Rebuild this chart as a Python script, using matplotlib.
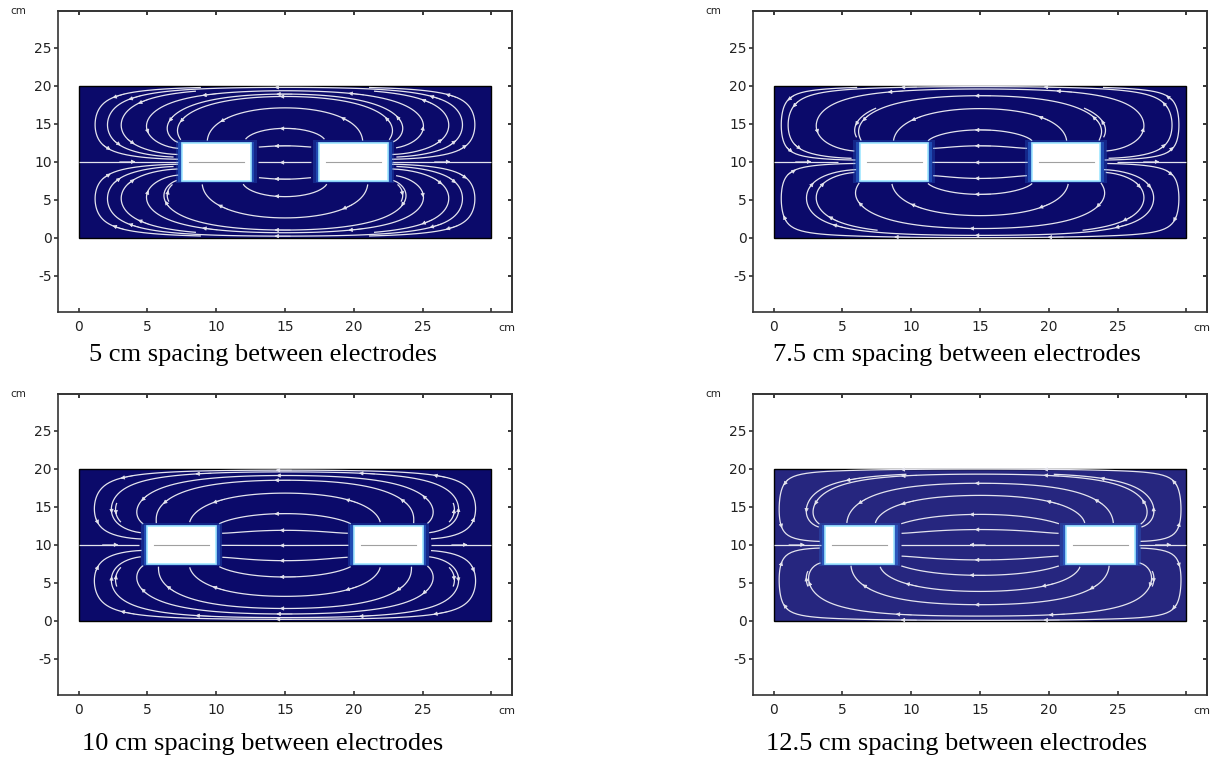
import numpy as np
import matplotlib
matplotlib.use('Agg')
from matplotlib import pyplot as plt
from matplotlib.patches import Rectangle, FancyArrowPatch

plt.rcParams['font.family'] = ['DejaVu Sans']
plt.rcParams['axes.unicode_minus'] = False

# 电极间距 (cm) 和每幅图的说明
spacings = [5, 7.5, 10, 12.5]
captions = ['5 cm spacing between electrodes', '7.5 cm spacing between electrodes',
            '10 cm spacing between electrodes', '12.5 cm spacing between electrodes']
tank_w, tank_h = 30, 20
elec_w, elec_h, elec_y0 = 5, 5, 7.5

# 从原图读出: 场线在 x=15 处的高度
mid_seeds = [
    [19.8, 18.6, 17.1, 14.4, 12.1, 9.9, 7.7, 5.4, 2.6, 1.0, 0.2],
    [19.9, 18.7, 17.0, 14.2, 12.1, 9.9, 7.8, 5.7, 2.9, 1.2, 0.3],
    [19.6, 18.5, 16.8, 14.1, 11.9, 9.9, 7.9, 5.75, 3.2, 1.6, 0.4],
    [19.3, 18.1, 16.5, 14.0, 12.0, 10.0, 8.0, 5.97, 3.85, 2.1, 0.6],
]
# 外侧回路在 y=15 处的 x 位置 (左侧)
outer_seeds = [
    [1.2, 3.1, 4.95, 6.5],
    [0.55, 3.1, 6.0],
    [1.15, 2.7, 4.3],
    [0.4, 2.4],
]
bg_colors = ['#0b0a6a', '#0b0a6a', '#0b0a6a', '#26267f']

xticks = [0, 5, 10, 15, 20, 25, 30]
xlabels = ['0', '5', '10', '15', '20', '25', '']
yticks = [-5, 0, 5, 10, 15, 20, 25]

# 网格
h = 0.25
xs = np.arange(0, tank_w + h / 2, h)
ys = np.arange(0, tank_h + h / 2, h)
X, Y = np.meshgrid(xs, ys)


def solve_field(gap):
    # 拉普拉斯方程, 水槽壁绝缘, 左电极 -1, 右电极 +1
    xl = tank_w / 2 - gap / 2 - elec_w
    xr = tank_w / 2 + gap / 2
    in_y = (Y >= elec_y0 - 1e-9) & (Y <= elec_y0 + elec_h + 1e-9)
    left = in_y & (X >= xl - 1e-9) & (X <= xl + elec_w + 1e-9)
    right = in_y & (X >= xr - 1e-9) & (X <= xr + elec_w + 1e-9)
    fixed = left | right
    V = (X - tank_w / 2) / (tank_w / 2)
    V[left] = -1
    V[right] = 1
    red = (np.indices(X.shape).sum(axis=0) % 2) == 0
    masks = [red & ~fixed, ~red & ~fixed]
    w = 1.93
    for _ in range(1500):
        for m in masks:
            P = np.pad(V, 1, mode='reflect')
            avg = (P[:-2, 1:-1] + P[2:, 1:-1] + P[1:-1, :-2] + P[1:-1, 2:]) / 4
            V[m] += w * (avg[m] - V[m])
    Ey, Ex = np.gradient(-V, h)
    Ex = np.ma.masked_array(Ex, mask=fixed)
    Ey = np.ma.masked_array(Ey, mask=fixed)
    return Ex, Ey, xl, xr


def split_lines(segs):
    # streamplot 可能给整条场线, 也可能给两点小线段; 两种都连成整条
    segs = [np.asarray(s) for s in segs]
    if any(len(s) > 2 for s in segs):
        return segs
    lines, cur = [], [segs[0][0], segs[0][1]]
    for s in segs[1:]:
        if np.allclose(s[0], cur[-1]):
            cur.append(s[1])
        else:
            lines.append(np.array(cur))
            cur = [s[0], s[1]]
    lines.append(np.array(cur))
    return lines


fig = plt.figure(figsize=(12.15, 7.59), dpi=100)
positions = [(0.0477, 0.5889), (0.6198, 0.5889), (0.0477, 0.0843), (0.6198, 0.0843)]
cap_pos = [(0.2165, 0.525), (0.7877, 0.525), (0.2165, 0.0112), (0.7877, 0.0112)]
line_color = '#e4e4ee'

for i, gap in enumerate(spacings):
    ax = fig.add_axes([positions[i][0], positions[i][1], 0.3737, 0.396])
    Ex, Ey, xl, xr = solve_field(gap)

    ax.add_patch(Rectangle((0, 0), tank_w, tank_h, facecolor=bg_colors[i],
                           edgecolor='black', linewidth=1.0, zorder=1))

    seeds = [(tank_w / 2, y) for y in mid_seeds[i]]
    for x in outer_seeds[i]:
        seeds += [(x, 15), (x, 5), (tank_w - x, 15), (tank_w - x, 5)]
    seeds += [(xl / 2, 10), (tank_w - xl / 2, 10)]

    sp_ = ax.streamplot(xs, ys, Ex, Ey, start_points=np.array(seeds),
                        integration_direction='both', broken_streamlines=True,
                        color=line_color, linewidth=0.9, arrowsize=0.6,
                        density=2.6, maxlength=20, zorder=2)
    # 去掉默认的中点箭头, 按弧长重新放箭头
    for p in list(ax.patches):
        if isinstance(p, FancyArrowPatch):
            p.remove()
    segs = sp_.lines.get_segments()
    if len(segs):
        for ln in split_lines(segs):
            d = np.hypot(np.diff(ln[:, 0]), np.diff(ln[:, 1]) * 1.8)
            s = np.concatenate([[0], np.cumsum(d)])
            L = s[-1]
            if L < 2.5 or len(ln) < 4:
                continue
            n = max(1, int(round(L / 11.0)))
            for k in range(n):
                t = L * (k + 0.5) / n
                j = int(np.clip(np.searchsorted(s, t), 2, len(ln) - 2))
                ax.add_patch(FancyArrowPatch(tuple(ln[j - 2]), tuple(ln[j + 1]),
                                             arrowstyle='-|>', mutation_scale=6,
                                             shrinkA=0, shrinkB=0, color=line_color,
                                             linewidth=0.5, zorder=2.5))

    # 电极
    for x0 in (xl, xr):
        for px, py, a in [(0.45, 0.3, 0.25), (0.25, 0.15, 0.45)]:
            ax.add_patch(Rectangle((x0 - px, elec_y0 - py), elec_w + 2 * px, elec_h + 2 * py,
                                   facecolor='#2f7be8', edgecolor='none', alpha=a, zorder=3))
        ax.add_patch(Rectangle((x0, elec_y0), elec_w, elec_h, facecolor='white',
                               edgecolor='#9fe6ff', linewidth=1.2, zorder=4))
        ax.plot([x0 + 0.5, x0 + elec_w - 0.5], [elec_y0 + elec_h / 2] * 2,
                color='#a0a0a0', linewidth=0.8, zorder=5)

    ax.set_xlim(-1.5, 31.5)
    ax.set_ylim(-9.8, 29.8)
    ax.set_xticks(xticks)
    ax.set_xticklabels(xlabels)
    ax.set_yticks(yticks)
    ax.tick_params(axis='x', direction='in', length=3, width=1.1, pad=6,
                   labelsize=10, colors='#222222')
    ax.tick_params(axis='y', direction='out', length=3, width=1.1, pad=1.5,
                   labelsize=10, colors='#222222')
    top = ax.secondary_xaxis('top')
    top.set_xticks(xticks)
    top.tick_params(direction='in', length=3, width=1.1, labeltop=False)
    right = ax.secondary_yaxis('right')
    right.set_yticks(yticks)
    right.tick_params(direction='in', length=3, width=1.1, labelright=False)
    for sp in list(ax.spines.values()) + [top.spines['top'], right.spines['right']]:
        sp.set_linewidth(1.2)
        sp.set_color('#333333')

    ax.text(-0.088, 1.0, 'cm', transform=ax.transAxes, fontsize=7.5,
            ha='center', va='center', color='#222222')
    ax.text(0.989, -0.053, 'cm', transform=ax.transAxes, fontsize=8,
            ha='center', va='center', color='#222222')

    fig.text(cap_pos[i][0], cap_pos[i][1], captions[i], fontsize=19,
             family=['Liberation Serif', 'DejaVu Serif'], ha='center', va='baseline')

fig.savefig('out.png', dpi=100)
